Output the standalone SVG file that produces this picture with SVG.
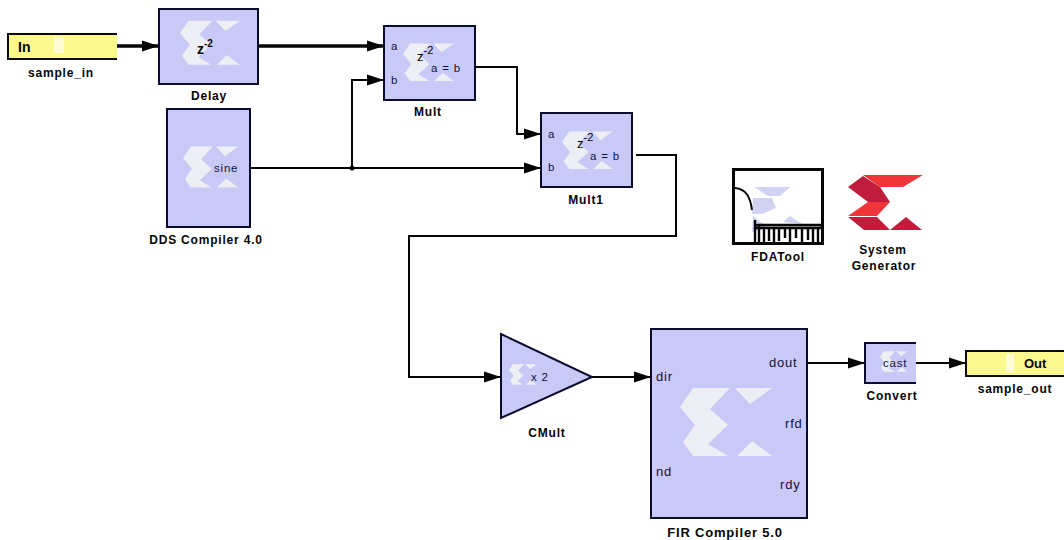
<svg xmlns="http://www.w3.org/2000/svg" width="1064" height="540" viewBox="0 0 1064 540">
<style>
text{font-family:"Liberation Sans",Arial,sans-serif;fill:#050505}
.lbl{font-size:12px;font-weight:bold;text-anchor:middle;letter-spacing:.8px}
.port{font-size:11.5px;fill:#12123c;letter-spacing:.8px}
.block{fill:#c9c9f7;stroke:#0b0b2e;stroke-width:2}
.gate{fill:#fbf98e;stroke:#0b0b0b;stroke-width:2}
.wire{fill:none;stroke:#050505;stroke-width:2;marker-end:url(#arrow)}
.thick{stroke-width:3.5}
.plain{fill:none;stroke:#050505;stroke-width:2}
</style>
<defs>
<marker id="arrow" markerUnits="userSpaceOnUse" markerWidth="18" markerHeight="14" refX="17" refY="7" orient="auto"><path d="M0 1.5L17 7L0 12.5Z" fill="#050505"/></marker>
<g id="logo">
<path d="M13 1H50L30 22L48 38L28 57L48 69H13L3 55L15 38L0 20Z" fill="#eeeff4"/>
<path d="M55 1H92L70 17ZM57 69L72 54L92 69Z" fill="#eeeff4"/>
</g>
</defs>
<rect width="1064" height="540" fill="#fff"/>
<g id="connectors">
<path class="wire thick" d="M117 46H159"/>
<path class="wire thick" d="M258 46H384"/>
<path class="wire" d="M250 168H541"/>
<path class="wire" d="M352 168V80H384"/>
<circle cx="352" cy="168" r="2.5" fill="#050505"/>
<path class="wire" d="M475 67H517V134H541"/>
<path class="wire" d="M636 155H676V236H409V377H501"/>
<path class="wire" d="M592 377H651"/>
<path class="wire" d="M807 363H865"/>
<path class="wire" d="M916 363H966"/>
</g>
<g id="sample_in">
<path d="M117 34H8V59H117" fill="#fbf98e" stroke="#0b0b0b" stroke-width="2"/>
<rect x="54" y="37" width="10" height="16" fill="#fdfcd6"/>
<text x="18" y="52" font-size="14" font-weight="bold" style="font-family:'Liberation Sans',sans-serif">In</text>
<text class="lbl" x="61" y="77">sample_in</text>
</g>
<g id="delay">
<rect class="block" x="159" y="9" width="99" height="75"/>
<use href="#logo" transform="translate(180 20) scale(.65)"/>
<text x="197" y="54" font-size="14" font-weight="bold">z<tspan dy="-7" font-size="10">-2</tspan></text>
<text class="lbl" x="209" y="100">Delay</text>
</g>
<g id="dds">
<rect class="block" x="167" y="109" width="83" height="118"/>
<use href="#logo" transform="translate(183 146) scale(.6)"/>
<text class="port" x="214" y="172">sine</text>
<text class="lbl" x="206" y="244">DDS Compiler 4.0</text>
</g>
<g id="mult">
<rect class="block" x="384" y="26" width="91" height="74"/>
<use href="#logo" transform="translate(403 43) scale(.55)"/>
<text class="port" x="391" y="50">a</text>
<text class="port" x="391" y="84">b</text>
<text x="417" y="61" font-size="13" fill="#12123c">z<tspan dy="-7" font-size="11">-2</tspan></text>
<text class="port" x="431" y="72">a = b</text>
<text class="lbl" x="428" y="116">Mult</text>
</g>
<g id="mult1">
<rect class="block" x="541" y="113" width="91" height="74"/>
<use href="#logo" transform="translate(562 131) scale(.55)"/>
<text class="port" x="548" y="138">a</text>
<text class="port" x="548" y="171">b</text>
<text x="577" y="148" font-size="13" fill="#12123c">z<tspan dy="-7" font-size="11">-2</tspan></text>
<text class="port" x="590" y="160">a = b</text>
<text class="lbl" x="586" y="204">Mult1</text>
</g>
<g id="fdatool">
<rect x="733.500" y="169.500" width="89" height="74" fill="#fff" stroke="#050505" stroke-width="3"/>
<path d="M754 187H790L780 196L768 196ZM753 198H772L776 208L762 214H752ZM753 216L768 228L752 232ZM783 222L790 216L802 224Z" fill="#d2d2f2"/>
<path d="M735 188C745 189 750 195 752 210" fill="none" stroke="#050505" stroke-width="2"/>
<path d="M755 220V243M759 224V243M764 228V243M769 228V241M774 228V243M779 228V241M785 228V238M790 228V243M796 228V238M802 228V243M808 228V240M813 228V243M818 228V243M755 225H822M755 228H822" fill="none" stroke="#050505" stroke-width="2.400"/>
<text class="lbl" x="778" y="261">FDATool</text>
</g>
<g id="system_generator">
<path d="M863 175H923L903 187H880Z" fill="#f0353a"/>
<path d="M848 187L863 176L880 187L890 202H868Z" fill="#c01c3c"/>
<path d="M868 202H890L877 216H848Z" fill="#f0353a"/>
<path d="M848 217H877L890 230H864Z" fill="#c01c3c"/>
<path d="M890 230L906 217L922 230Z" fill="#c01c3c"/>
<text class="lbl" x="883" y="254">System</text>
<text class="lbl" x="884" y="270">Generator</text>
</g>
<g id="cmult">
<path class="block" d="M501 334L592 377L501 418Z"/>
<use href="#logo" transform="translate(509 364) scale(.3)"/>
<text class="port" x="531" y="381">x 2</text>
<text class="lbl" x="547" y="437">CMult</text>
</g>
<g id="fir">
<rect class="block" x="651" y="329" width="156" height="189"/>
<use href="#logo" transform="translate(680 387)"/>
<text class="port" x="656" y="381" style="font-size:13px">dir</text>
<text class="port" x="656" y="476" style="font-size:13px">nd</text>
<text class="port" x="769" y="367" style="font-size:13px">dout</text>
<text class="port" x="785" y="428" style="font-size:13px">rfd</text>
<text class="port" x="780" y="489" style="font-size:13px">rdy</text>
<text class="lbl" x="725" y="537" style="font-size:13px">FIR Compiler 5.0</text>
</g>
<g id="convert">
<path d="M916 343H865V383H916Z" fill="#c9c9f7"/>
<path d="M916 343H865V383H916" fill="none" stroke="#0b0b2e" stroke-width="2"/>
<use href="#logo" transform="translate(880 351) scale(.3)"/>
<text class="port" x="883" y="367">cast</text>
<text class="lbl" x="892" y="400">Convert</text>
</g>
<g id="sample_out">
<path d="M1064 351H966V376H1064" fill="#fbf98e" stroke="#0b0b0b" stroke-width="2"/>
<rect x="1006" y="354" width="8" height="18" fill="#fdfcd6"/>
<text x="1024" y="368" font-size="13" font-weight="bold">Out</text>
<text class="lbl" x="1015" y="393">sample_out</text>
</g>
</svg>
